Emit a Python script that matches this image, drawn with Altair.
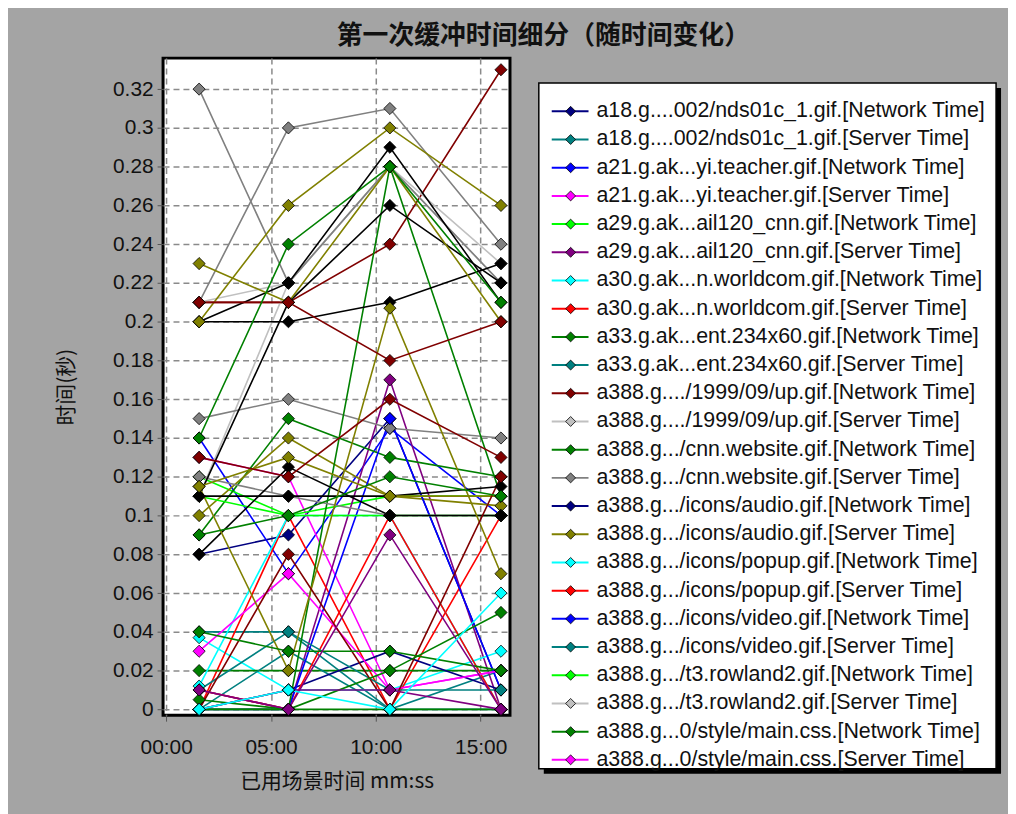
import altair as alt
import pandas as pd

TITLE = "第一次缓冲时间细分（随时间变化）"
X_TITLE = "已用场景时间 mm:ss"
Y_TITLE = "时间(秒)"

# elapsed scenario time (minutes) of the four sampled instants
times_min = [1.57, 5.83, 10.67, 15.97]

legend_names = [
    "a18.g....002/nds01c_1.gif.[Network Time]",
    "a18.g....002/nds01c_1.gif.[Server Time]",
    "a21.g.ak...yi.teacher.gif.[Network Time]",
    "a21.g.ak...yi.teacher.gif.[Server Time]",
    "a29.g.ak...ail120_cnn.gif.[Network Time]",
    "a29.g.ak...ail120_cnn.gif.[Server Time]",
    "a30.g.ak...n.worldcom.gif.[Network Time]",
    "a30.g.ak...n.worldcom.gif.[Server Time]",
    "a33.g.ak...ent.234x60.gif.[Network Time]",
    "a33.g.ak...ent.234x60.gif.[Server Time]",
    "a388.g..../1999/09/up.gif.[Network Time]",
    "a388.g..../1999/09/up.gif.[Server Time]",
    "a388.g.../cnn.website.gif.[Network Time]",
    "a388.g.../cnn.website.gif.[Server Time]",
    "a388.g.../icons/audio.gif.[Network Time]",
    "a388.g.../icons/audio.gif.[Server Time]",
    "a388.g.../icons/popup.gif.[Network Time]",
    "a388.g.../icons/popup.gif.[Server Time]",
    "a388.g.../icons/video.gif.[Network Time]",
    "a388.g.../icons/video.gif.[Server Time]",
    "a388.g.../t3.rowland2.gif.[Network Time]",
    "a388.g.../t3.rowland2.gif.[Server Time]",
    "a388.g...0/style/main.css.[Network Time]",
    "a388.g...0/style/main.css.[Server Time]",
]
legend_colors = [
    "#000080", "#008080", "#0000ff", "#ff00ff", "#00ff00", "#800080",
    "#00ffff", "#ff0000", "#008000", "#008080", "#800000", "#c0c0c0",
    "#008000", "#808080", "#000080", "#808000", "#00ffff", "#ff0000",
    "#0000ff", "#008080", "#00ff00", "#c0c0c0", "#008000", "#ff00ff",
]
legend_values = [
    [0.08, 0.09, 0.15, 0.01],
    [0.04, 0.04, 0.0, 0.02],
    [0.14, 0.07, 0.145, 0.10],
    [0.13, 0.12, 0.01, 0.02],
    [0.12, 0.10, 0.11, 0.11],
    [0.01, 0.0, 0.17, 0.0],
    [0.037, 0.01, 0.01, 0.03],
    [0.0, 0.10, 0.0, 0.10],
    [0.02, 0.02, 0.02, 0.02],
    [0.0, 0.03, 0.0, 0.0],
    [0.21, 0.21, 0.24, 0.33],
    [0.11, 0.22, 0.28, 0.22],
    [0.09, 0.15, 0.13, 0.12],
    [0.15, 0.16, 0.145, 0.14],
    [0.0, 0.01, 0.03, 0.01],
    [0.10, 0.14, 0.11, 0.105],
    [0.012, 0.10, 0.10, 0.0],
    [0.01, 0.0, 0.10, 0.0],
    [0.0, 0.0, 0.15, 0.01],
    [0.01, 0.04, 0.01, 0.01],
    [0.11, 0.10, 0.10, 0.10],
    [0.21, 0.22, 0.28, 0.23],
    [0.005, 0.0, 0.28, 0.11],
    [0.03, 0.07, 0.01, 0.02],
]

# further transactions drawn in the plot whose legend rows are scrolled out of view
extra_names = ["more transaction %d" % i for i in range(25, 48)]
extra_colors = [
    "#808080", "#808080", "#808080",
    "#000000", "#000000", "#000000", "#000000", "#000000",
    "#808000", "#808000", "#808000", "#808000",
    "#800000", "#800000", "#800000",
    "#008000", "#008000", "#008000", "#008000",
    "#800080", "#008000", "#800080", "#00ffff",
]
extra_values = [
    [0.32, 0.22, 0.28, 0.22],
    [0.21, 0.30, 0.31, 0.24],
    [0.12, 0.11, 0.10, 0.10],
    [0.20, 0.20, 0.21, 0.23],
    [0.20, 0.22, 0.29, 0.21],
    [0.11, 0.21, 0.26, 0.22],
    [0.11, 0.11, 0.11, 0.115],
    [0.08, 0.125, 0.10, 0.10],
    [0.23, 0.21, 0.28, 0.20],
    [0.20, 0.26, 0.30, 0.26],
    [0.115, 0.02, 0.207, 0.07],
    [0.115, 0.13, 0.11, 0.11],
    [0.13, 0.12, 0.16, 0.13],
    [0.0, 0.08, 0.0, 0.12],
    [0.21, 0.21, 0.18, 0.20],
    [0.14, 0.24, 0.28, 0.21],
    [0.04, 0.03, 0.03, 0.02],
    [0.0, 0.0, 0.02, 0.05],
    [0.0, 0.0, 0.0, 0.0],
    [0.01, 0.0, 0.09, 0.0],
    [0.09, 0.10, 0.12, 0.11],
    [0.0, 0.01, 0.01, 0.0],
    [0.0, 0.01, 0.0, 0.06],
]

y_ticks = [round(0.02 * i, 2) for i in range(17)]
x_ticks = [0, 5, 10, 15]

all_names = legend_names + extra_names
all_colors = legend_colors + extra_colors
all_values = legend_values + extra_values

rows = []
for k, (n, vals) in enumerate(zip(all_names, all_values)):
    for t, v in zip(times_min, vals):
        rows.append({"name": n, "t": t, "v": v, "k": k})
df = pd.DataFrame(rows)

color_scale = alt.Scale(domain=all_names, range=all_colors)
LABEL_FONT = "Liberation Sans"
CJK_FONT = "Noto Sans CJK SC"

x_enc = alt.X(
    "t:Q",
    scale=alt.Scale(domain=[-0.15, 16.4], nice=False, zero=False),
    axis=alt.Axis(
        values=x_ticks,
        labelExpr="(datum.value < 10 ? '0' : '') + datum.value + ':00'",
        title=X_TITLE,
        grid=True, gridDash=[6, 4], gridColor="#8a8a8a", gridWidth=1.5,
        domain=False, tickColor="#555555", tickSize=6, labelPadding=16,
        labelFont=LABEL_FONT, labelFontSize=21, labelColor="#111111",
        titleFont=CJK_FONT, titleFontSize=21, titleFontWeight="normal",
        titleColor="#111111", titlePadding=13,
    ),
)
y_enc = alt.Y(
    "v:Q",
    scale=alt.Scale(domain=[-0.003, 0.336], nice=False, zero=False),
    axis=alt.Axis(
        values=y_ticks, format=".2~f", title=Y_TITLE,
        grid=True, gridDash=[6, 4], gridColor="#8a8a8a", gridWidth=1.5,
        domain=False, tickColor="#555555", tickSize=6, labelPadding=4,
        labelFont=LABEL_FONT, labelFontSize=21, labelColor="#111111",
        titleFont=CJK_FONT, titleFontSize=21, titleFontWeight="normal",
        titleColor="#111111", titlePadding=36,
    ),
)

base = alt.Chart(df)
lines = base.mark_line(strokeWidth=1.6).encode(
    x=x_enc, y=y_enc,
    color=alt.Color("name:N", scale=color_scale, legend=None),
    detail="name:N", order="t:Q",
)
points = base.mark_point(
    shape="diamond", filled=True, size=150, stroke="black",
    strokeWidth=0.8, opacity=1,
).encode(
    x="t:Q", y="v:Q",
    fill=alt.Fill("name:N", scale=color_scale, legend=None),
    order="k:Q",
)
plot = alt.layer(lines, points).properties(
    width=349, height=661,
    view=alt.ViewBackground(fill="white", stroke="black", strokeWidth=3),
)

leg_df = pd.DataFrame({"name": legend_names, "idx": list(range(len(legend_names)))})
box_df = pd.DataFrame({"a": [0]})
ly = alt.Y("idx:Q", scale=alt.Scale(domain=[-1.887, 23.567], reverse=True,
                                    nice=False, zero=False), axis=None)
shadow = alt.Chart(box_df).mark_rect(color="black").encode(
    x=alt.value(5), x2=alt.value(465), y=alt.value(30), y2=alt.value(720))
box = alt.Chart(box_df).mark_rect(fill="white", stroke="black", strokeWidth=1.5).encode(
    x=alt.value(0), x2=alt.value(460), y=alt.value(25), y2=alt.value(715))
lrule = alt.Chart(leg_df).mark_rule(strokeWidth=2).encode(
    x=alt.value(13), x2=alt.value(50), y=ly,
    color=alt.Color("name:N", scale=color_scale, legend=None))
lpt = alt.Chart(leg_df).mark_point(
    shape="diamond", filled=True, size=100, stroke="black",
    strokeWidth=0.8, opacity=1,
).encode(x=alt.value(32), y=ly,
         fill=alt.Fill("name:N", scale=color_scale, legend=None))
ltxt = alt.Chart(leg_df).mark_text(
    align="left", baseline="middle", fontSize=21.5, font=LABEL_FONT, color="#111111",
).encode(x=alt.value(58), y=ly, text="name:N")
legend = alt.layer(shadow, box, lrule, lpt, ltxt).properties(
    width=466, height=722,
    view=alt.ViewBackground(fill="transparent", stroke="transparent"),
)

chart = alt.hconcat(plot, legend, spacing=25).resolve_scale(
    x="independent", y="independent"
).properties(
    title=alt.TitleParams(
        TITLE, font=CJK_FONT, fontSize=26, fontWeight="bold",
        anchor="middle", color="#111111", offset=8, dx=15,
    ),
).configure(background="#a4a4a4", padding={"left": 46, "top": 12, "right": 5, "bottom": 20})

chart.save("out.html", embed_options={"renderer": "svg", "actions": False})
